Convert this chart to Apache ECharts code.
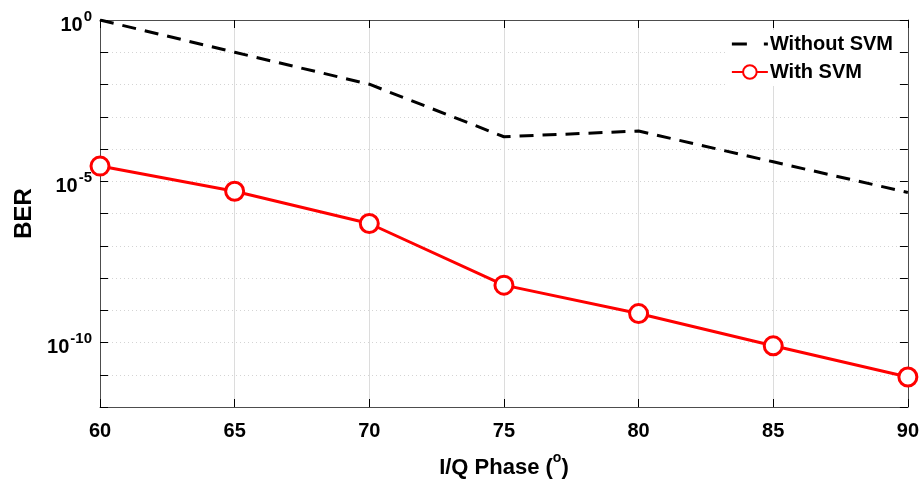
<!DOCTYPE html>
<html>
<head>
<meta charset="utf-8">
<script src="https://cdn.jsdelivr.net/npm/echarts@6/dist/echarts.min.js"></script>
<style>
  html, body { margin: 0; padding: 0; background: #fff; }
  #chart { width: 922px; height: 484px; }
</style>
</head>
<body>
<div id="chart"></div>
<script>
// phase values on x axis
var phases = [60, 65, 70, 75, 80, 85, 90];
// BER (log scale)
var berWithout = [1e0, 1.0e-1, 1.02e-2, 2.4e-4, 3.6e-4, 4.0e-5, 4.5e-6];
var berWith = [2.95e-5, 4.9e-6, 4.9e-7, 6.0e-9, 7.9e-10, 7.9e-11, 8.5e-12];
var majorDecades = [1e-5, 1e-10];

var chart = echarts.init(document.getElementById('chart'));
var font = 'Liberation Sans, Arial, sans-serif';
var axisGray = '#4d4d4d';

function pairs(ys) {
    return phases.map(function (x, i) { return [x, ys[i]]; });
}

// two dashes, like the matlab legend sample
var dashIcon = 'path://M0,0 L15,0 L15,3 L0,3 Z M32,0 L36,0 L36,3 L32,3 Z';

var option = {
    animation: false,
    grid: { left: 100, right: 13, top: 20, bottom: 76 },
    legend: {
        right: 25, top: 30,
        orient: 'vertical',
        itemWidth: 36, itemHeight: 17, itemGap: 8,
        backgroundColor: '#fff',
        padding: [4, 4, 4, 4],
        textStyle: { fontFamily: font, fontWeight: 'bold', fontSize: 20, lineHeight: 20, color: '#000', padding: [0, 0, 0, -3] },
        data: [
            { name: 'Without SVM', icon: dashIcon, itemStyle: { color: '#000' } },
            { name: 'With SVM' }
        ]
    },
    xAxis: [{
        type: 'value', min: 60, max: 90, interval: 5,
        name: '{t|I/Q Phase (}{s|o}{t|)}',
        nameLocation: 'middle', nameGap: 40,
        nameTextStyle: {
            rich: {
                t: { fontFamily: font, fontWeight: 'bold', fontSize: 22, color: '#000', padding: [10, 0, 0, 0] },
                s: { fontFamily: font, fontWeight: 'bold', fontSize: 14, color: '#000', verticalAlign: 'top', padding: [4, 0, 0, 0] }
            }
        },
        axisLine: { lineStyle: { color: axisGray, width: 1 } },
        axisTick: { inside: true, length: 8, lineStyle: { color: '#000' } },
        axisLabel: { fontFamily: font, fontWeight: 'bold', fontSize: 20, color: '#000', margin: 14 },
        splitLine: { show: true, lineStyle: { color: '#dcdcdc', width: 1 } }
    }, {
        type: 'value', min: 60, max: 90, interval: 5, position: 'top',
        axisLine: { show: true, lineStyle: { color: axisGray, width: 1 } },
        axisTick: { inside: true, length: 8, lineStyle: { color: '#000' } },
        axisLabel: { show: false },
        splitLine: { show: false }
    }],
    yAxis: [{
        type: 'log', logBase: 10, min: 1e-12, max: 1, interval: 1,
        name: 'BER', nameLocation: 'middle', nameGap: 62,
        nameTextStyle: { fontFamily: font, fontWeight: 'bold', fontSize: 24, color: '#000' },
        axisLine: { show: true, lineStyle: { color: axisGray, width: 1 } },
        axisTick: { inside: true, length: 8, lineStyle: { color: '#000' } },
        axisLabel: {
            margin: 8,
            formatter: function (v) {
                var e = Math.round(Math.log10(v));
                if (e % 5 !== 0) return '';
                return '{b|10}{s|' + e + '}';
            },
            rich: {
                b: { fontFamily: font, fontWeight: 'bold', fontSize: 20, color: '#000', padding: [10, 0, 0, 0] },
                s: { fontFamily: font, fontWeight: 'bold', fontSize: 15, color: '#000', verticalAlign: 'top', padding: [4, 0, 6, 1] }
            }
        },
        splitLine: { show: true, lineStyle: { color: '#d4d4d4', width: 1, type: [1, 3] } },
        minorTick: { show: false }
    }, {
        type: 'log', logBase: 10, min: 1e-12, max: 1, interval: 1, position: 'right',
        axisLine: { show: true, lineStyle: { color: axisGray, width: 1 } },
        axisTick: { inside: true, length: 8, lineStyle: { color: '#000' } },
        axisLabel: { show: false },
        splitLine: { show: false }
    }],
    series: [{
        name: 'Without SVM',
        type: 'line',
        data: pairs(berWithout),
        symbol: 'none',
        lineStyle: { color: '#000', width: 3, type: [14, 9] },
        itemStyle: { color: '#000' },
        z: 3
    }, {
        name: 'With SVM',
        type: 'line',
        data: pairs(berWith),
        symbol: 'circle',
        symbolSize: 18,
        lineStyle: { color: '#ff0000', width: 3 },
        itemStyle: { color: '#fff', borderColor: '#ff0000', borderWidth: 3 },
        markLine: {
            silent: true,
            symbol: 'none',
            label: { show: false },
            lineStyle: { color: '#dcdcdc', width: 1, type: 'solid' },
            data: majorDecades.map(function (v) { return { yAxis: v }; })
        },
        z: 4
    }]
};

chart.setOption(option);
</script>
</body>
</html>
